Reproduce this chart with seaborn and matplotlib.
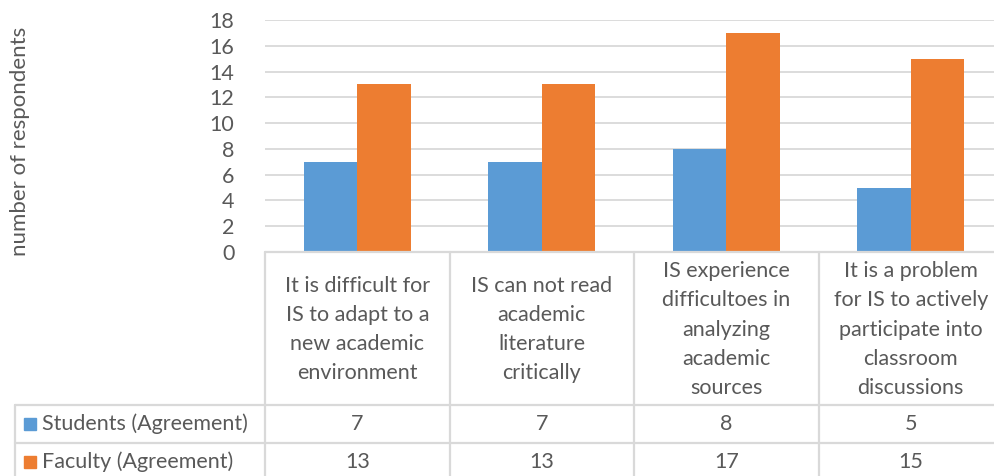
import numpy as np
import pandas as pd
import seaborn as sns
import matplotlib.pyplot as plt

categories = [
    "It is difficult for\nIS to adapt to a\nnew academic\nenvironment",
    "IS can not read\nacademic\nliterature\ncritically",
    "IS experience\ndifficultoes in\nanalyzing\nacademic\nsources",
    "It is a problem\nfor IS to actively\nparticipate into\nclassroom\ndiscussions",
]
series_names = ["Students (Agreement)", "Faculty (Agreement)"]
students = [7, 7, 8, 5]
faculty = [13, 13, 17, 15]
colors = ["#5b9bd5", "#ed7d31"]

df = pd.DataFrame({
    "category": categories * 2,
    "series": [series_names[0]] * 4 + [series_names[1]] * 4,
    "value": students + faculty,
})

sns.set_style("white")
plt.rcParams["font.family"] = ["Lato", "DejaVu Sans"]
txt = "#595959"
grid = "#d9d9d9"
fs = 15.5

W, H = 995, 476
fig = plt.figure(figsize=(W / 100, H / 100), dpi=100)

# plot area in pixel terms
x0, x1, ytop, ybot = 265, 1003, 20, 252
ax = fig.add_axes([x0 / W, 1 - ybot / H, (x1 - x0) / W, (ybot - ytop) / H])
sns.barplot(data=df, x="category", y="value", hue="series", palette=colors,
            width=0.58, saturation=1, linewidth=0, ax=ax, legend=False, zorder=3)
ax.set_ylim(0, 18)
ax.set_yticks(range(0, 19, 2))
ax.set_xlim(-0.5, 3.5)
ax.yaxis.grid(True, color=grid, lw=1.3, zorder=0)
ax.set_xticks([])
ax.set_xlabel("")
ax.set_ylabel("")
for s in ax.spines.values():
    s.set_visible(False)
ax.tick_params(axis="y", length=0, pad=22, labelsize=fs, labelcolor=txt)

fig.text(20 / W, 1 - 141 / H, "number of respondents", rotation=90,
         ha="center", va="center", fontsize=fs + 0.5, color=txt)

# data table below the plot, in pixel coordinates
tb = fig.add_axes([0, 0, 1, 1], facecolor="none")
tb.set_xlim(0, W)
tb.set_ylim(H, 0)
tb.axis("off")
col_w = (x1 - x0) / 4
cols = [x0 + i * col_w for i in range(5)]
row_y = [252, 405, 443, 481]
lw = 1.6
tb.plot([x0, x1], [row_y[0]] * 2, color=grid, lw=lw)
for y in row_y[1:3]:
    tb.plot([15, x1], [y, y], color=grid, lw=lw)
for x in cols:
    tb.plot([x, x], [row_y[0], H], color=grid, lw=lw)
tb.plot([15, 15], [row_y[1], H], color=grid, lw=lw)

for i, cat in enumerate(categories):
    tb.text(cols[i] + col_w / 2, (row_y[0] + row_y[1]) / 2 + 1, cat,
            ha="center", va="center", fontsize=fs, color=txt, linespacing=1.58)
for r, (name, vals, c) in enumerate(zip(series_names, [students, faculty], colors)):
    yc = (row_y[r + 1] + row_y[r + 2]) / 2
    tb.add_patch(plt.Rectangle((24, yc - 6), 12, 12, color=c))
    tb.text(42, yc, name, ha="left", va="center", fontsize=fs, color=txt)
    for i, v in enumerate(vals):
        tb.text(cols[i] + col_w / 2, yc, str(v), ha="center", va="center",
                fontsize=fs, color=txt)

fig.savefig("out.png", dpi=100)
